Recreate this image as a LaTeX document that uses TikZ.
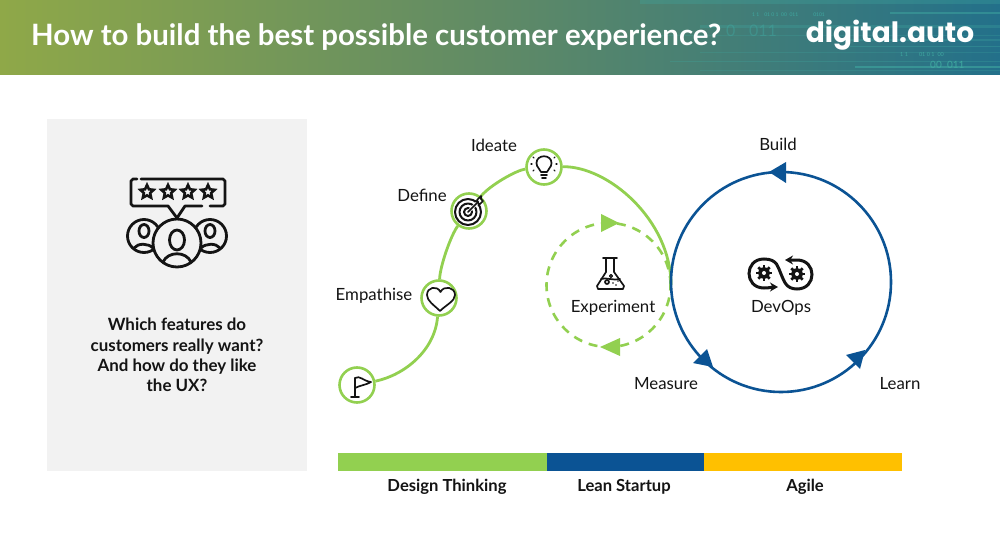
\documentclass[tikz,border=0pt]{standalone}
\usepackage{fontspec}
\setmainfont{Lato}
\newfontfamily\logofont{Poppins}
\usetikzlibrary{arrows.meta,positioning,shapes.geometric}
\definecolor{dagreen}{HTML}{92D050}
\definecolor{dablue}{HTML}{0B5394}
\definecolor{dayellow}{HTML}{FFC000}
\definecolor{dagray}{HTML}{F2F2F2}
\definecolor{daink}{HTML}{141414}
\definecolor{daolive}{HTML}{8FA848}
\definecolor{damid}{HTML}{5F8A66}
\definecolor{dateal}{HTML}{23708A}
\definecolor{dastreak}{HTML}{3FA8A0}

\begin{document}
\begin{tikzpicture}[
    x=1pt, y=-1pt,
    stage/.style={circle, draw=dagreen, fill=white, line width=2.6pt,
                  minimum size=35pt, inner sep=0pt},
    loopnode/.style={circle, minimum size=#1, inner sep=0pt},
    lbl/.style={font=\fontsize{16.8}{19}\selectfont, text=daink, inner sep=0pt},
    bartxt/.style={font=\fontsize{16.6}{19}\selectfont\bfseries, text=daink, inner sep=0pt},
    icon/.style={draw=daink, line width=1.7pt, line cap=round, line join=round},
    bigicon/.style={draw=daink, line width=2.8pt, line cap=round, line join=round},
    binary/.style={text=dastreak, inner sep=0pt},
    conn/.style={draw=dagreen, line width=2.8pt}
  ]
  \useasboundingbox (0,0) rectangle (1000,540);
  \fill[white] (0,0) rectangle (1000,540);

  % ---- Header ----
  \fill[left color=daolive, right color=dateal, middle color=damid] (0,0) rectangle (1000,75);
  \fill[dastreak, opacity=0.3] (640,0) rectangle (1000,4);
  \foreach \ya/\xa/\wd/\op in {13/890/1.5/.5, 27/700/3/.3, 36/660/1/.25, 40/840/1.5/.3, 47/850/1/.35,
                               53/700/1/.25, 62/670/1/.3, 67/855/1.5/.6, 71/700/1/.25}
    \draw[dastreak, opacity=\op, line width=\wd pt] (\xa,\ya) -- (1000,\ya);
  \node[binary, font=\fontsize{5}{6}\selectfont, anchor=west] (binone) at (752,15) {1 1\quad 01 0 1\; 00\; 011\qquad\quad 0101};
  \node[binary, font=\fontsize{16}{17}\selectfont, anchor=west, opacity=0.45] (bintwo) at (726,31) {0\hspace{0.85em}011};
  \node[binary, font=\fontsize{5.5}{6}\selectfont, anchor=west] (binthree) at (900,55) {1 1\qquad 01 0 1\; 00};
  \node[binary, font=\fontsize{10}{11}\selectfont, anchor=west] (binfour) at (930,65) {00\; 011};
  \node[font=\fontsize{29.4}{32}\selectfont\bfseries, text=white, anchor=west, inner sep=0pt] (title) at (31,37)
    {How to build the best possible customer experience?};
  \node[font=\logofont\fontsize{28}{30}\selectfont\bfseries, text=white, anchor=center, inner sep=0pt] (logo) at (890,35)
    {digital.auto};

  % ---- Question panel ----
  \fill[dagray] (47,119) rectangle (307,471);
  \node[font=\fontsize{16.9}{20.4}\selectfont\bfseries, text=daink, align=center, inner sep=0pt] (question) at (177,355)
    {Which features do\\customers really want?\\And how do they like\\the UX?};

  % ---- Rating icon ----
  \draw[bigicon] (137,179) -- (133,179) -- (131,181) -- (131,204) -- (133,206) -- (168,206)
    -- (177,218) -- (185,206) -- (202,206);
  \draw[bigicon] (141,179) -- (223,179) -- (225,181) -- (225,204) -- (223,206) -- (210,206);
  \foreach \sx [count=\si] in {147,168,188,208}
    \node[star, star points=5, star point ratio=2.1, draw=daink, line width=2.6pt,
          minimum size=14pt, inner sep=0pt] (star\si) at (\sx,192) {};
  \draw[bigicon, fill=dagray] (144,236) circle (16.5);
  \draw[bigicon, fill=dagray] (210,236) circle (16.5);
  \draw[bigicon] (144,231) ellipse (5 and 6.5);
  \draw[bigicon] (210,231) ellipse (5 and 6.5);
  \draw[bigicon] (134,248) .. controls (138,243) and (148,243) .. (153,248);
  \draw[bigicon] (201,248) .. controls (206,243) and (216,243) .. (220,248);
  \draw[bigicon, fill=dagray] (177,243) circle (24);
  \draw[bigicon] (177,240) ellipse (7.5 and 10);
  \draw[bigicon] (163,262) .. controls (168,251) and (186,251) .. (191,262);

  % ---- Design thinking curve ----
  \node[stage] (flag) at (357,385) {};
  \node[stage] (heart) at (439,298) {};
  \node[stage] (target) at (469,211) {};
  \node[stage] (bulb) at (544,167) {};
  \coordinate (tail) at (671,285);
  \draw[conn] (flag) .. controls (405,375) and (435,350) .. (heart);
  \draw[conn] (heart) .. controls (440,266) and (451,235) .. (target);
  \draw[conn] (target) .. controls (490,185) and (517,170) .. (bulb);
  \draw[conn] (bulb) .. controls (608,166) and (671,220) .. (tail);

  \node[lbl] (lempathise) at (374,296) {Empathise};
  \node[lbl] (ldefine) at (422,195) {Define};
  \node[lbl] (lideate) at (494,145.5) {Ideate};

  % ---- Stage icons ----
  \draw[icon] (351,397) -- (359,397);
  \draw[icon] (355,397) -- (355,378);
  \draw[icon] (355,378) .. controls (360,375) and (363,381) .. (371,382)
    .. controls (366,385) and (361,385) .. (355,388);
  \draw[icon] (440,311) .. controls (434,305) and (427,301) .. (427,295)
    .. controls (427,287) and (437,285) .. (440.5,292)
    .. controls (444,285) and (455,287) .. (455,295)
    .. controls (455,301) and (446,305) .. (440,311);
  \foreach \rr in {4,8.5,13}
    \draw[icon, line width=2pt] (468,212) circle (\rr);
  \draw[draw=white, line width=3pt] (468,212) -- (478,202);
  \draw[icon] (468,212) -- (478,202);
  \draw[icon] (475,201) -- (478,202) -- (479,205) -- (483,201) -- (481,199) -- (481,196) -- (477,200) -- (478,202);
  \draw[icon] (541,172) .. controls (540,168) and (536.5,168) .. (536.5,163)
    .. controls (536.5,154) and (551.5,154) .. (551.5,163)
    .. controls (551.5,168) and (548,168) .. (547,172) -- cycle;
  \draw[icon] (541,175) -- (547,175);
  \draw[icon] (542,178) -- (546,178);
  \foreach \rx/\ry/\sx/\sy in {534/158/533/157, 532/164/531/164, 534/170/533/171,
                               554/158/555/157, 556/164/557/164, 554/170/555/171}
    \draw[icon, line width=1.2pt] (\rx,\ry) -- (\sx,\sy);

  % ---- Experiment loop ----
  \node[loopnode=124pt, draw=dagreen, line width=2.6pt, dash pattern=on 9pt off 7pt] (exploop) at (608.5,285) {};
  \fill[dagreen] (601,214) -- (619,223) -- (601,232) -- cycle;
  \fill[dagreen] (620,338) -- (600,347) -- (620,356) -- cycle;
  \node[lbl] (lexperiment) at (613,308) {Experiment};
  % flask
  \draw[icon] (603,258) -- (617,258);
  \draw[icon] (606,258) -- (606,272) -- (597,286) -- (598,289) -- (623,289) -- (624,286) -- (614,272) -- (614,258);
  \draw[icon] (601,279) .. controls (606,277) and (614,281) .. (620,279);
  \draw[icon] (607,282) circle (2);
  \draw[icon, line width=1.2pt] (611,276) circle (1.5);
  \foreach \dx/\dy in {613/283, 616/285, 618/281}
    \fill[daink] (\dx,\dy) circle (0.8);

  % ---- Build measure learn loop ----
  \node[loopnode=220pt, draw=dablue, line width=2.6pt] (devloop) at (781,282) {};
  \fill[dablue] (769,172) -- (786,162) -- (786,183) -- cycle;
  \fill[dablue] (713,367) -- (693,363) -- (707,349) -- cycle;
  \fill[dablue] (865,350) -- (846,355) -- (860,369) -- cycle;
  \node[lbl] (lbuild) at (778,144.5) {Build};
  \node[lbl] (lmeasure) at (666,383.5) {Measure};
  \node[lbl] (llearn) at (900,383.5) {Learn};
  \node[lbl] (ldevops) at (781,308) {DevOps};
  % devops icon
  \draw[daink, line width=3pt, {Stealth[length=8pt,width=9pt]}-{Stealth[length=8pt,width=9pt]}]
    (778,287) .. controls (772,287) and (770,288) .. (764,288)
    .. controls (744,288) and (744,259) .. (764,259)
    .. controls (778,259) and (778,268) .. (781,274)
    .. controls (784,281) and (786,289) .. (797,289)
    .. controls (817,289) and (817,260) .. (797,260)
    .. controls (793,260) and (790,260) .. (785,260);
  \foreach \gx/\gy in {764/273, 797/274} {
    \foreach \ga in {0,45,...,315}
      \draw[daink, line width=2.6pt] (\gx,\gy) ++(\ga:4) -- ++(\ga:4);
    \fill[daink] (\gx,\gy) circle (5.8);
    \fill[white] (\gx,\gy) circle (2);
  }

  % ---- Method bar ----
  \fill[dagreen] (338,453) rectangle (547,471);
  \fill[dablue] (547,453) rectangle (704,471);
  \fill[dayellow] (704,453) rectangle (902,471);
  \node[bartxt] (ldesign) at (447,486.5) {Design Thinking};
  \node[bartxt] (llean) at (624,486.5) {Lean Startup};
  \node[bartxt] (lagile) at (805,486.5) {Agile};

\end{tikzpicture}
\end{document}
